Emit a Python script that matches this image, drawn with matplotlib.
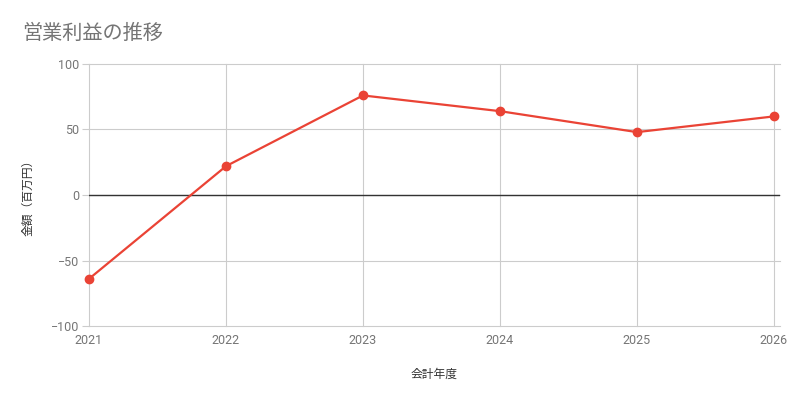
import matplotlib
matplotlib.use("Agg")
import matplotlib.pyplot as plt

years = [2021, 2022, 2023, 2024, 2025, 2026]
values = [-64, 22, 76, 64, 48, 60]
y_ticks = [-100, -50, 0, 50, 100]
title = "営業利益の推移"
x_label = "会計年度"
y_label = "金額（百万円）"

cjk = ["Noto Sans CJK JP", "DejaVu Sans"]
num = ["Roboto", "DejaVu Sans"]

fig = plt.figure(figsize=(8, 4), dpi=100)
ax = fig.add_axes([89/800, 74/400, 691/800, 262/400])

grid_c = "#cccccc"
ax.set_xlim(years[0], years[-1] + 0.044)
ax.set_ylim(y_ticks[0], y_ticks[-1])
ax.set_xticks(years)
ax.set_yticks(y_ticks)
ax.grid(True, color=grid_c, linewidth=0.8)
for gl in ax.get_xgridlines() + ax.get_ygridlines():
    gl.set_clip_on(False)
    gl.set_snap(True)
ax.axhline(0, color="#333333", linewidth=1, zorder=2)
for s in ax.spines.values():
    s.set_visible(False)
ax.tick_params(axis="y", length=5, color=grid_c, width=0.8, pad=2, labelsize=9, labelcolor="#757575")
ax.tick_params(axis="x", length=0, pad=6, labelsize=9, labelcolor="#757575")
for lbl in ax.get_xticklabels() + ax.get_yticklabels():
    lbl.set_family(num)

ax.plot(years, values, color="#EA4335", linewidth=1.6, marker="o", markersize=6, zorder=3, clip_on=False)

ax.set_xlabel(x_label, family=cjk, fontsize=8.5, color="#333333", labelpad=15)
ax.set_ylabel(y_label, family=cjk, fontsize=8.5, color="#333333", labelpad=12)

fig.text(22/800, 1 - 33/400, title, family=cjk, fontsize=14.5, color="#757575", va="center", ha="left")

fig.savefig("out.png", dpi=100, facecolor="white")
